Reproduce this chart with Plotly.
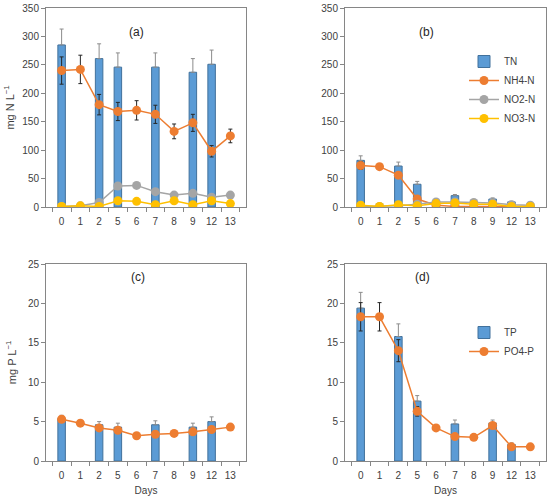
import plotly.graph_objects as go

days = ["0", "1", "2", "5", "6", "7", "8", "9", "12", "13"]

# Panel (a)
a_tn = [285, None, 261, 246, None, 246, None, 237, 251, None]
a_tn_err = [28, 0, 26, 25, 0, 25, 0, 24, 25, 0]
a_nh4 = [240, 242, 180, 168, 170, 163, 133, 148, 98, 125]
a_nh4_err = [24, 25, 18, 16, 17, 16, 13, 15, 10, 12]
a_no2 = [1, 2, 8, 37, 38, 27, 21, 24, 17, 21]
a_no3 = [1, 2, 1, 11, 10, 4, 11, 4, 11, 6]

# Panel (b)
b_tn = [82, None, 72, 40, None, 20, None, 14, 9, None]
b_tn_err = [8, 0, 7, 5, 0, 2, 0, 2, 1, 0]
b_nh4 = [73, 71, 56, 14, 3, 1, 1, 1, 1, 1]
b_nh4_err = [7, 4, 3, 2, 0, 0, 0, 0, 0, 0]
b_no2 = [1, 1, 2, 5, 9, 9, 8, 7, 4, 3]
b_no3 = [3, 1, 4, 2, 6, 7, 5, 5, 1, 1]

# Panel (c)
c_tp = [5.4, None, 4.6, 4.3, None, 4.6, None, 4.3, 5.0, None]
c_tp_err = [0.4, 0, 0.4, 0.5, 0, 0.5, 0, 0.5, 0.6, 0]
c_po4 = [5.3, 4.8, 4.2, 3.9, 3.2, 3.4, 3.5, 3.7, 4.0, 4.3]
c_po4_err = [0.3, 0.3, 0.2, 0.2, 0.1, 0.1, 0.1, 0.1, 0.1, 0.1]

# Panel (d)
d_tp = [19.4, None, 15.8, 7.6, None, 4.7, None, 4.8, 2.1, None]
d_tp_err = [2.0, 0, 1.6, 0.7, 0, 0.5, 0, 0.4, 0.2, 0]
d_po4 = [18.3, 18.3, 14.0, 6.3, 4.2, 3.1, 3.0, 4.5, 1.8, 1.8]
d_po4_err = [1.8, 1.8, 1.4, 0.6, 0.1, 0.1, 0.1, 0.3, 0.1, 0.1]

BLUE = "#5B9BD5"
BLUE_EDGE = "#41719C"
ORANGE = "#ED7D31"
GRAY = "#A5A5A5"
YELLOW = "#FFC000"
ERR_DARK = "#262626"
ERR_GRAY = "#8C8C8C"

W, H = 550, 500
def px_x(x0, x1):
    return [x0 / W, x1 / W]
def px_y(y0, y1):
    return [1 - y1 / H, 1 - y0 / H]

fig = go.Figure()

def add_bar(ax, vals, err, name, show, legend):
    fig.add_trace(go.Bar(
        x=days, y=vals, name=name, width=0.4,
        marker=dict(color=BLUE, line=dict(color=BLUE_EDGE, width=1)),
        error_y=dict(type="data", array=err, arrayminus=[0] * len(err), symmetric=False,
                     color=ERR_GRAY, thickness=1, width=2),
        xaxis="x" + ax, yaxis="y" + ax, showlegend=show, legend=legend))

def add_line(ax, vals, name, color, show, legend, err=None):
    kw = {}
    if err is not None:
        kw["error_y"] = dict(type="data", array=err, color=ERR_DARK, thickness=1, width=2)
    fig.add_trace(go.Scatter(
        x=days, y=vals, name=name, mode="lines+markers",
        line=dict(color=color, width=1.5), marker=dict(color=color, size=9),
        xaxis="x" + ax, yaxis="y" + ax, showlegend=show, legend=legend, **kw))

# (a)
add_bar("", a_tn, a_tn_err, "TN", False, "legend")
add_line("", a_nh4, "NH4-N", ORANGE, False, "legend", a_nh4_err)
add_line("", a_no2, "NO2-N", GRAY, False, "legend")
add_line("", a_no3, "NO3-N", YELLOW, False, "legend")
# (b)
add_bar("2", b_tn, b_tn_err, "TN", True, "legend")
add_line("2", b_nh4, "NH4-N", ORANGE, True, "legend", b_nh4_err)
add_line("2", b_no2, "NO2-N", GRAY, True, "legend")
add_line("2", b_no3, "NO3-N", YELLOW, True, "legend")
# (c)
add_bar("3", c_tp, c_tp_err, "TP", False, "legend2")
add_line("3", c_po4, "PO4-P", ORANGE, False, "legend2", c_po4_err)
# (d)
add_bar("4", d_tp, d_tp_err, "TP", True, "legend2")
add_line("4", d_po4, "PO4-P", ORANGE, True, "legend2", d_po4_err)

font = dict(family="Liberation Sans, Arial, sans-serif", size=10, color="#404040")
xbase = dict(type="category", categoryorder="array", categoryarray=days,
             tickson="boundaries", ticks="outside", ticklen=4, tickcolor="#868686",
             tickangle=0, automargin=False, ticklabelstandoff=5,
             showline=True, linecolor="#868686", linewidth=1, mirror=True,
             showgrid=False, zeroline=False, tickfont=font)
ybase = dict(ticks="outside", ticklen=4, tickcolor="#868686", automargin=False,
             showline=True, linecolor="#868686", linewidth=1, mirror=True,
             showgrid=False, zeroline=False, tickfont=font)

dom_ax_l = px_x(46, 246)
dom_ax_r = px_x(345, 546)
dom_top = px_y(8, 207)
dom_bot = px_y(264, 461)

legfont = dict(font, size=10, color="#404040")

fig.update_layout(
    width=W, height=H, margin=dict(l=0, r=0, t=0, b=0, autoexpand=False),
    paper_bgcolor="white", plot_bgcolor="white", font=font,
    xaxis=dict(xbase, domain=dom_ax_l, anchor="y"),
    yaxis=dict(ybase, domain=dom_top, anchor="x", range=[0, 350], dtick=50,
               title=dict(text="mg N L<sup>−1</sup>", font=dict(font, size=11), standoff=5)),
    xaxis2=dict(xbase, domain=dom_ax_r, anchor="y2"),
    yaxis2=dict(ybase, domain=dom_top, anchor="x2", range=[0, 350], dtick=50),
    xaxis3=dict(xbase, domain=dom_ax_l, anchor="y3",
                title=dict(text="Days", font=dict(font, size=10), standoff=6)),
    yaxis3=dict(ybase, domain=dom_bot, anchor="x3", range=[0, 25], dtick=5,
                title=dict(text="mg P L<sup>−1</sup>", font=dict(font, size=11), standoff=9)),
    xaxis4=dict(xbase, domain=dom_ax_r, anchor="y4",
                title=dict(text="Days", font=dict(font, size=10), standoff=6)),
    yaxis4=dict(ybase, domain=dom_bot, anchor="x4", range=[0, 25], dtick=5),
    legend=dict(x=464 / W, y=1 - 47 / H, xanchor="left", yanchor="top",
                font=legfont, bgcolor="rgba(0,0,0,0)",
                itemwidth=30, tracegroupgap=0, traceorder="normal"),
    legend2=dict(x=464 / W, y=1 - 318 / H, xanchor="left", yanchor="top",
                 font=legfont, bgcolor="rgba(0,0,0,0)",
                 itemwidth=30, tracegroupgap=0, traceorder="normal"),
    barmode="overlay",
    annotations=[
        dict(text="(a)", x=127 / W, y=1 - 23 / H, xref="paper", yref="paper",
             showarrow=False, font=dict(font, size=12, color="#262626")),
        dict(text="(b)", x=436 / W, y=1 - 23 / H, xref="paper", yref="paper",
             showarrow=False, font=dict(font, size=12, color="#262626")),
        dict(text="(c)", x=129 / W, y=1 - 277 / H, xref="paper", yref="paper",
             showarrow=False, font=dict(font, size=12, color="#262626")),
        dict(text="(d)", x=432 / W, y=1 - 277 / H, xref="paper", yref="paper",
             showarrow=False, font=dict(font, size=12, color="#262626")),
    ],
)

fig.write_html("out.html", config={"displayModeBar": False},
               post_script="document.body.style.margin='0';")
